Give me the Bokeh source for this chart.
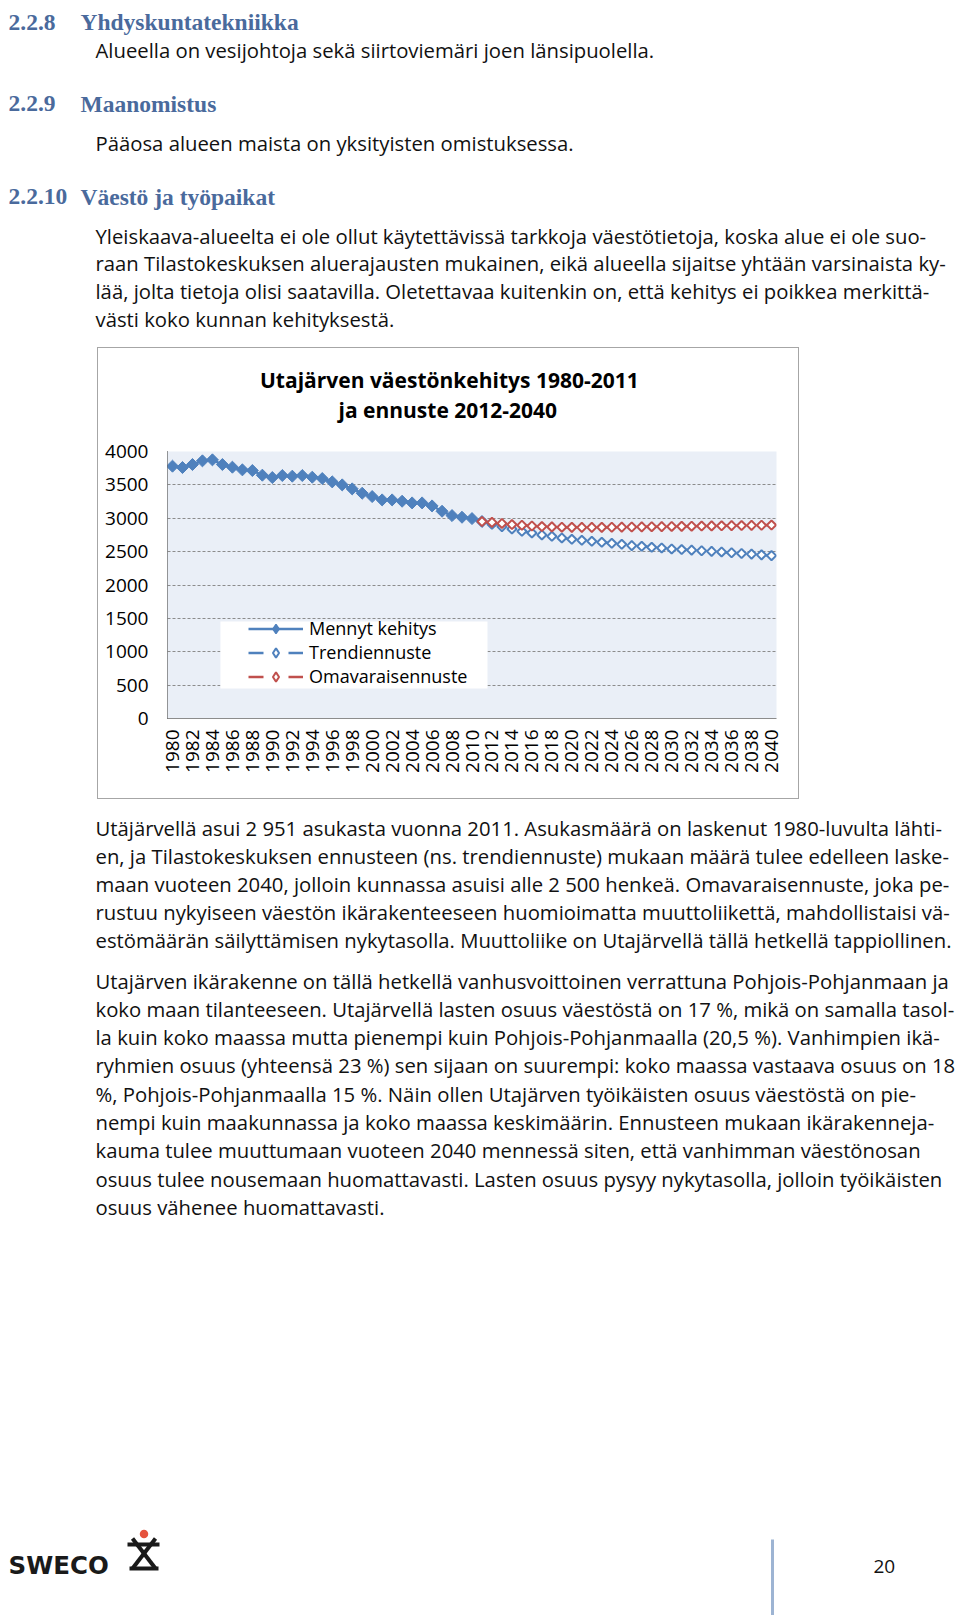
import numpy as np
from bokeh.plotting import figure
from bokeh.models import Range1d, FixedTicker, Legend, LegendItem, BoxAnnotation, Spacer
from bokeh.layouts import column, row
from bokeh.core.properties import value
from bokeh.embed import file_html
from bokeh.resources import INLINE

# ---------------- chart data ----------------
past_years = list(range(1980, 2012))
past_pop = [3780, 3760, 3805, 3860, 3875, 3805, 3765, 3725, 3715, 3645,
            3610, 3640, 3630, 3640, 3615, 3595, 3545, 3500, 3440, 3375,
            3325, 3275, 3275, 3255, 3230, 3230, 3185, 3105, 3040, 3015,
            2995, 2951]
fc_years = list(range(2011, 2041))
trend_pop = [2951, 2910, 2875, 2840, 2805, 2780, 2750, 2730, 2705, 2685,
             2670, 2655, 2640, 2625, 2610, 2590, 2580, 2565, 2555, 2540,
             2531, 2522, 2513, 2504, 2495, 2483, 2472, 2462, 2451, 2440]
own_pop = [2951, 2938, 2922, 2906, 2895, 2884, 2876, 2870, 2866, 2864,
           2863, 2863, 2864, 2865, 2867, 2869, 2871, 2873, 2875, 2877,
           2879, 2881, 2883, 2885, 2887, 2889, 2891, 2893, 2895, 2898]
x_ticks = list(range(1980, 2041, 2))
y_ticks = list(range(0, 4001, 500))
series_names = ["Mennyt kehitys", "Trendiennuste", "Omavaraisennuste"]
chart_title = ["Utajärven väestönkehitys 1980-2011", "ja ennuste 2012-2040"]

# ---------------- page text ----------------
heading_nums = ["2.2.8", "2.2.9", "2.2.10"]
heading_titles = ["Yhdyskuntatekniikka", "Maanomistus", "Väestö ja työpaikat"]
intro_lines = ["Alueella on vesijohtoja sekä siirtoviemäri joen länsipuolella.",
               "Pääosa alueen maista on yksityisten omistuksessa."]
para1 = ["Yleiskaava-alueelta ei ole ollut käytettävissä tarkkoja väestötietoja, koska alue ei ole suo-",
         "raan Tilastokeskuksen aluerajausten mukainen, eikä alueella sijaitse yhtään varsinaista ky-",
         "lää, jolta tietoja olisi saatavilla. Oletettavaa kuitenkin on, että kehitys ei poikkea merkittä-",
         "västi koko kunnan kehityksestä."]
para2 = ["Utäjärvellä asui 2 951 asukasta vuonna 2011. Asukasmäärä on laskenut 1980-luvulta lähti-",
         "en, ja Tilastokeskuksen ennusteen (ns. trendiennuste) mukaan määrä tulee edelleen laske-",
         "maan vuoteen 2040, jolloin kunnassa asuisi alle 2 500 henkeä. Omavaraisennuste, joka pe-",
         "rustuu nykyiseen väestön ikärakenteeseen huomioimatta muuttoliikettä, mahdollistaisi vä-",
         "estömäärän säilyttämisen nykytasolla. Muuttoliike on Utajärvellä tällä hetkellä tappiollinen."]
para3 = ["Utajärven ikärakenne on tällä hetkellä vanhusvoittoinen verrattuna Pohjois-Pohjanmaan ja",
         "koko maan tilanteeseen. Utajärvellä lasten osuus väestöstä on 17 %, mikä on samalla tasol-",
         "la kuin koko maassa mutta pienempi kuin Pohjois-Pohjanmaalla (20,5 %). Vanhimpien ikä-",
         "ryhmien osuus (yhteensä 23 %) sen sijaan on suurempi: koko maassa vastaava osuus on 18",
         "%, Pohjois-Pohjanmaalla 15 %. Näin ollen Utajärven työikäisten osuus väestöstä on pie-",
         "nempi kuin maakunnassa ja koko maassa keskimäärin. Ennusteen mukaan ikärakenneja-",
         "kauma tulee muuttumaan vuoteen 2040 mennessä siten, että vanhimman väestönosan",
         "osuus tulee nousemaan huomattavasti. Lasten osuus pysyy nykytasolla, jolloin työikäisten",
         "osuus vähenee huomattavasti."]
logo_text = "SWECO"
page_number = "20"

BLUE = "#4F81BD"
RED = "#C0504D"
HEAD = "#4A6A9C"
TXT = "#111111"
BODY_FONT = value("Open Sans")
BODY_SIZE = "20.3px"
PAGE_W = 960


def page_fig(w, h, x_left, x_right, y_top, y_bottom, border_left=0, border_right=0):
    f = figure(width=w, height=h, x_range=Range1d(x_left, x_right), y_range=Range1d(y_bottom, y_top),
               output_backend="svg", toolbar_location=None,
               x_axis_location=None, y_axis_location=None,
               min_border=0, min_border_left=border_left, min_border_right=border_right,
               min_border_top=0, min_border_bottom=0,
               outline_line_color=None, background_fill_color="white",
               border_fill_color="white")
    f.grid.visible = False
    return f


def body_lines(f, lines, x0, y0, step):
    f.text(x=[x0] * len(lines), y=[y0 + i * step for i in range(len(lines))], text=lines,
           text_font=BODY_FONT, text_font_size=BODY_SIZE, text_color=TXT,
           text_baseline="alphabetic", text_align="left")


# ---------------- top part of the page (page y 0..347) ----------------
top = page_fig(PAGE_W, 347, 0, PAGE_W, 0, 347)
head_y = [21.5, 103, 196]
top.text(x=[8] * 3, y=head_y, text=heading_nums, text_font=value("Liberation Serif"),
         text_font_style="bold", text_font_size="23.5px", text_color=HEAD, text_baseline="alphabetic")
top.text(x=[80] * 3, y=head_y, text=heading_titles, text_font=value("Liberation Serif"),
         text_font_style="bold", text_font_size="23.5px", text_color=HEAD, text_baseline="alphabetic")
top.text(x=[95, 95], y=[49, 142], text=intro_lines, text_font=BODY_FONT,
         text_font_size=BODY_SIZE, text_color=TXT, text_baseline="alphabetic")
body_lines(top, para1, 95, 235, 27.8)

# ---------------- chart box (page x 97..799, y 347..799) ----------------
# title strip: page y 348..431; its frame is aligned with the plot area (page x 167..776)
title_fig = page_fig(700, 83, 167, 776, 348, 431, border_left=69, border_right=22)
title_fig.text(x=[259.5, 338], y=[379, 409], text=chart_title, text_font=value("Open Sans"),
               text_font_style="bold", text_font_size="21px", text_color="black",
               text_align="left", text_baseline="alphabetic")

# plot part: page y 431..798, plot area x 167..776, y 451..718
chart = figure(width=700, height=367, output_backend="svg", toolbar_location=None,
               x_range=Range1d(1979.5, 2040.5), y_range=Range1d(0, 4000),
               min_border_left=69, min_border_right=22, min_border_top=20, min_border_bottom=80,
               background_fill_color="#EAEFF7", border_fill_color="white",
               outline_line_color=None)

chart.xgrid.visible = False
chart.ygrid.grid_line_color = "#8c8c8c"
chart.ygrid.grid_line_dash = "3 2"
chart.ygrid.grid_line_width = 1

for ax in (chart.xaxis, chart.yaxis):
    ax.major_tick_line_color = None
    ax.minor_tick_line_color = None
    ax.major_tick_out = 0
    ax.major_tick_in = 0
    ax.minor_tick_out = 0
    ax.major_label_text_font = "Open Sans"
    ax.major_label_text_font_size = "19px"
    ax.major_label_text_color = "black"

chart.yaxis.ticker = FixedTicker(ticks=y_ticks)
chart.yaxis.axis_line_color = "#303030"
chart.yaxis.axis_line_dash = "1 1"
chart.yaxis.major_label_standoff = 19
chart.xaxis.ticker = FixedTicker(ticks=x_ticks)
chart.xaxis.major_label_orientation = np.pi / 2
chart.xaxis.axis_line_color = "#8c8c8c"
chart.xaxis.major_label_standoff = 11

# legend backdrop
chart.add_layout(BoxAnnotation(left=1984.8, right=2011.55, bottom=449, top=1453,
                               fill_color="white", fill_alpha=1, line_color=None))

r1l = chart.line(past_years, past_pop, line_color=BLUE, line_width=2.5)
r1m = chart.scatter(past_years, past_pop, marker="square", angle=np.pi / 4, size=8.5,
                    fill_color=BLUE, line_color=BLUE, line_width=1)
r2l = chart.line(fc_years, trend_pop, line_color=BLUE, line_width=2.5, line_dash="15 25")
r2m = chart.scatter(fc_years, trend_pop, marker="square", angle=np.pi / 4, size=6.5,
                    fill_color="white", line_color=BLUE, line_width=2)
r3l = chart.line(fc_years, own_pop, line_color=RED, line_width=2.5, line_dash="15 25")
r3m = chart.scatter(fc_years, own_pop, marker="square", angle=np.pi / 4, size=6.5,
                    fill_color="white", line_color=RED, line_width=2)

# diamond-shaped legend markers (legend only)
k1 = chart.scatter(past_years, past_pop, marker="diamond", fill_color=BLUE, line_color=BLUE,
                   line_width=1.5, visible=False)
k2 = chart.scatter(fc_years, trend_pop, marker="diamond", fill_color="white", line_color=BLUE,
                   line_width=2, visible=False)
k3 = chart.scatter(fc_years, own_pop, marker="diamond", fill_color="white", line_color=RED,
                   line_width=2, visible=False)

legend = Legend(items=[LegendItem(label=series_names[0], renderers=[r1l, k1]),
                       LegendItem(label=series_names[1], renderers=[r2l, k2]),
                       LegendItem(label=series_names[2], renderers=[r3l, k3])],
                location=(81, 30), orientation="vertical", padding=0, margin=0, spacing=0,
                glyph_width=55, glyph_height=23, label_height=22, label_standoff=6,
                background_fill_alpha=0, border_line_color=None,
                label_text_font="Open Sans", label_text_font_size="18px",
                label_text_color="black")
chart.add_layout(legend)

chart_box = column(title_fig, chart, styles={"border": "1px solid #a6a6a6"})

# ---------------- bottom part of the page (page y 799..1615) ----------------
bot = page_fig(PAGE_W, 816, 0, PAGE_W, 799, 1615)
body_lines(bot, para2, 95, 827, 28.1)
body_lines(bot, para3, 95, 980, 28.3)

# footer: logo, divider line, page number
bot.text(x=[8], y=[1565], text=[logo_text], text_font=value("DejaVu Sans"), text_font_style="bold",
         text_font_size="24.5px", text_color="#1a1a1a", text_baseline="alphabetic")
bot.segment(x0=[132, 155, 127, 129], y0=[1538, 1538, 1544, 1568],
            x1=[155, 132, 159, 158], y1=[1568, 1568, 1544, 1568],
            line_color="#1a1a1a", line_width=4)
bot.scatter(x=[143.5], y=[1533.5], marker="circle", size=8.5, fill_color="#E5533D", line_color=None)
bot.segment(x0=[772], y0=[1539], x1=[772], y1=[1615], line_color="#9DB4D3", line_width=3)
bot.text(x=[873], y=[1566], text=[page_number], text_font=BODY_FONT, text_font_size="19px",
         text_color=TXT, text_baseline="alphabetic")

layout = column(top, row(Spacer(width=97, height=452), chart_box), bot)

with open("out.html", "w") as fh:
    fh.write(file_html(layout, INLINE))
